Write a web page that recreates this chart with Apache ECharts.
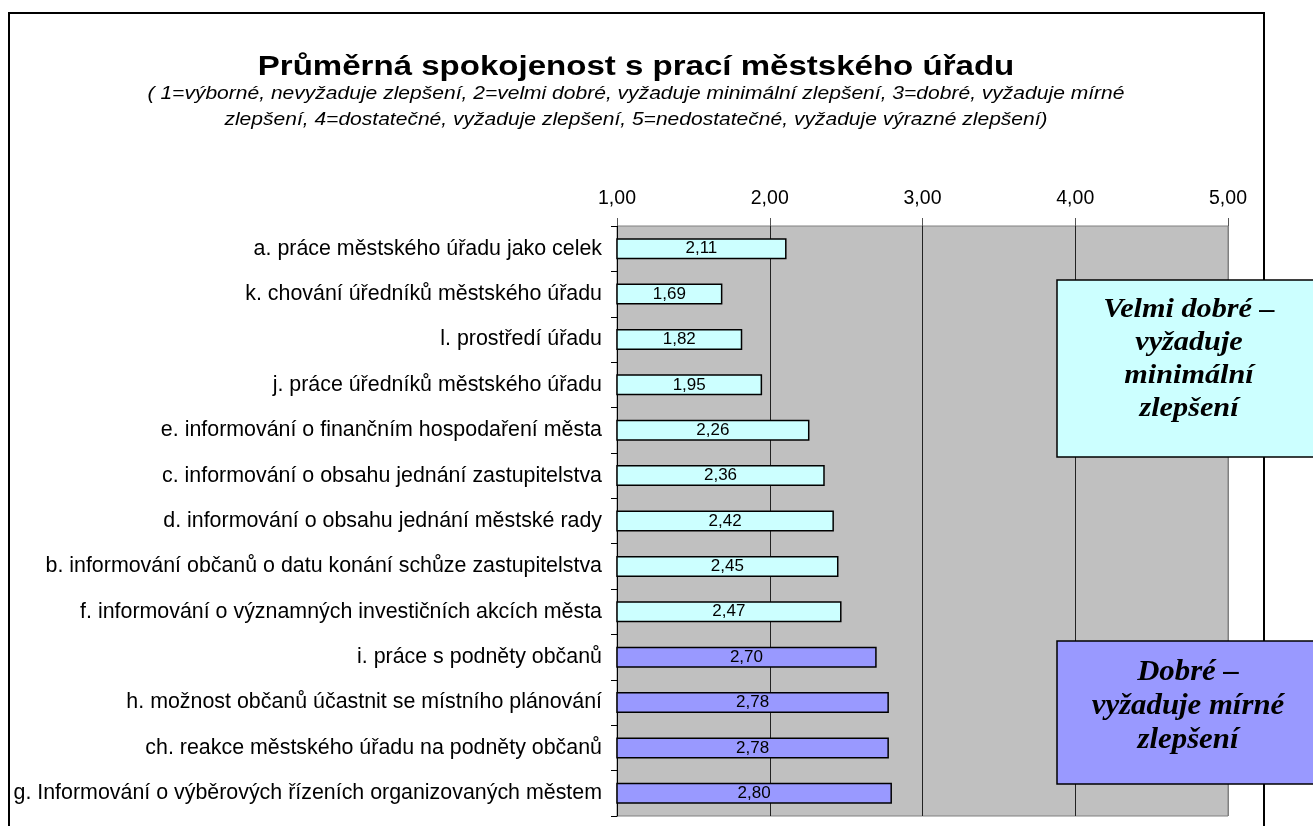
<!DOCTYPE html>
<html>
<head>
<meta charset="utf-8">
<script src="https://cdn.jsdelivr.net/npm/echarts@6/dist/echarts.min.js"></script>
<style>
html,body{margin:0;padding:0;background:#fff;}
#chart{width:1313px;height:826px;}
</style>
</head>
<body>
<div id="chart"></div>
<script>
const categories = [
  "a. práce městského úřadu jako celek",
  "k. chování úředníků městského úřadu",
  "l. prostředí úřadu",
  "j. práce úředníků městského úřadu",
  "e. informování o finančním hospodaření města",
  "c. informování o obsahu jednání zastupitelstva",
  "d. informování o obsahu jednání městské rady",
  "b. informování občanů o datu konání schůze zastupitelstva",
  "f. informování o významných investičních akcích města",
  "i. práce s podněty občanů",
  "h. možnost občanů účastnit se místního plánování",
  "ch. reakce městského úřadu na podněty občanů",
  "g. Informování o výběrových řízeních organizovaných městem"
];
const values = [2.11, 1.69, 1.82, 1.95, 2.26, 2.36, 2.42, 2.45, 2.47, 2.70, 2.78, 2.78, 2.80];
const groups = ["vd","vd","vd","vd","vd","vd","vd","vd","vd","d","d","d","d"];
const tickValues = [1, 2, 3, 4, 5];
const titleText = "Průměrná spokojenost s prací městského úřadu";
const subtitleLines = [
  "( 1=výborné, nevyžaduje zlepšení, 2=velmi dobré, vyžaduje minimální zlepšení, 3=dobré, vyžaduje mírné",
  "zlepšení, 4=dostatečné, vyžaduje zlepšení, 5=nedostatečné, vyžaduje výrazné zlepšení)"
];
const box1Lines = ["Velmi dobré –", "vyžaduje", "minimální", "zlepšení"];
const box2Lines = ["Dobré –", "vyžaduje mírné", "zlepšení"];

const groupColor = { vd: "#CCFFFF", d: "#9999FF" };
const fmt = v => v.toFixed(2).replace('.', ',');
const SANS = '"Liberation Sans", Arial, sans-serif';
const SERIF = '"Liberation Serif", "Times New Roman", serif';

const chart = echarts.init(document.getElementById('chart'), null, {renderer: 'canvas'});
const option = {
  backgroundColor: '#ffffff',
  animation: false,
  textStyle: { fontFamily: SANS },
  grid: {
    left: 617, right: 85, top: 226, bottom: 10,
    show: true, backgroundColor: '#C0C0C0', borderColor: '#808080', borderWidth: 1
  },
  xAxis: {
    type: 'value', position: 'top',
    min: tickValues[0], max: tickValues[tickValues.length - 1], interval: 1,
    axisLine: { show: false },
    axisTick: { show: true, length: 8, lineStyle: { color: '#555', width: 1 } },
    axisLabel: { formatter: v => fmt(v), fontSize: 19.5, color: '#000', margin: 17, fontFamily: SANS },
    splitLine: { show: true, lineStyle: { color: ['#000', '#222', '#222', '#222', '#808080'], width: 1 } }
  },
  yAxis: {
    type: 'category', inverse: true, data: categories,
    axisLine: { show: true, lineStyle: { color: '#000', width: 1 } },
    axisTick: { show: true, length: 6, lineStyle: { color: '#000' } },
    axisLabel: { fontSize: 21.4, color: '#000', margin: 15, fontFamily: SANS }
  },
  series: [{
    type: 'bar',
    data: values.map((v, i) => ({ value: v, itemStyle: { color: groupColor[groups[i]] } })),
    barWidth: 21,
    itemStyle: { borderColor: '#000', borderWidth: 1.5 },
    label: { show: true, position: 'inside', color: '#000', fontSize: 17,
      fontFamily: SANS, formatter: p => fmt(p.value) }
  }],
  graphic: [
    { type: 'rect', z: 100, silent: true,
      shape: { x: 9, y: 13, width: 1255, height: 840 },
      style: { fill: 'none', stroke: '#000', lineWidth: 2 } },
    { type: 'text', z: 101, x: 636, y: 67, scaleX: 1.18,
      style: { x: 0, y: 0, text: titleText, textAlign: 'center', textVerticalAlign: 'middle',
        font: 'bold 28px ' + SANS, fill: '#000' } },
    { type: 'text', z: 101, x: 636, y: 94, scaleX: 1.12,
      style: { x: 0, y: 0, text: subtitleLines[0], textAlign: 'center', textVerticalAlign: 'middle',
        font: 'italic 18.8px ' + SANS, fill: '#000' } },
    { type: 'text', z: 101, x: 636, y: 120, scaleX: 1.12,
      style: { x: 0, y: 0, text: subtitleLines[1], textAlign: 'center', textVerticalAlign: 'middle',
        font: 'italic 18.8px ' + SANS, fill: '#000' } },
    { type: 'rect', z: 110,
      shape: { x: 1057, y: 280, width: 280, height: 177 },
      style: { fill: groupColor.vd, stroke: '#000', lineWidth: 1.5 } },
    { type: 'text', z: 111, x: 1189, y: 359, scaleX: 1.08,
      style: { x: 0, y: 0, text: box1Lines.join('\n'), textAlign: 'center', textVerticalAlign: 'middle',
        lineHeight: 33, font: 'italic bold 28px ' + SERIF, fill: '#000' } },
    { type: 'rect', z: 110,
      shape: { x: 1057, y: 641, width: 280, height: 143 },
      style: { fill: groupColor.d, stroke: '#000', lineWidth: 1.5 } },
    { type: 'text', z: 111, x: 1188, y: 707, scaleX: 1.08,
      style: { x: 0, y: 0, text: box2Lines.join('\n'), textAlign: 'center', textVerticalAlign: 'middle',
        lineHeight: 34, font: 'italic bold 28.5px ' + SERIF, fill: '#000' } }
  ]
};
chart.setOption(option);
</script>
</body>
</html>
